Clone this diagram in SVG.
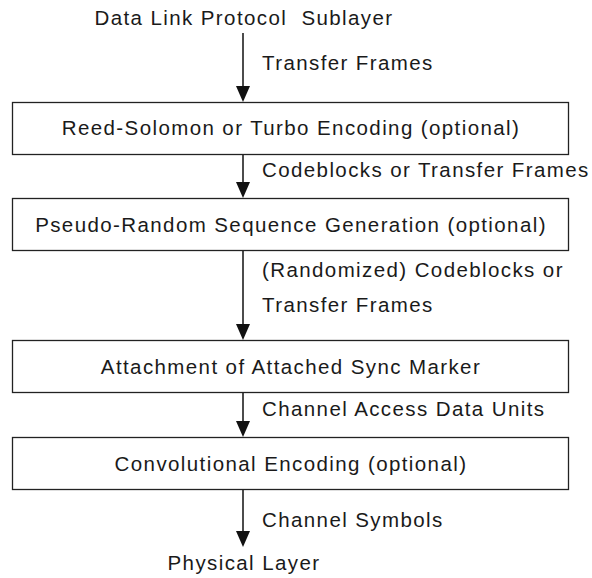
<svg xmlns="http://www.w3.org/2000/svg" width="592" height="578" viewBox="0 0 592 578">
<style>
text{font-family:"Liberation Sans",Arial,sans-serif;font-size:20.5px;letter-spacing:1.4px;fill:#1a1a1a;white-space:pre}
.c{text-anchor:middle}
.box{fill:#fff;stroke:#222;stroke-width:1.3}
.ln{stroke:#111;stroke-width:1.5;fill:none}
.ah{fill:#111}
</style>
<rect width="592" height="578" fill="#fff"/>
<g id="connectors">
<line class="ln" x1="243" y1="33" x2="243" y2="86"/>
<path class="ah" d="M236,86 L250,86 L243,102 Z"/>
<line class="ln" x1="243" y1="155" x2="243" y2="182"/>
<path class="ah" d="M236,182 L250,182 L243,198 Z"/>
<line class="ln" x1="243" y1="250" x2="243" y2="324"/>
<path class="ah" d="M236,324 L250,324 L243,340 Z"/>
<line class="ln" x1="243" y1="393" x2="243" y2="421"/>
<path class="ah" d="M236,421 L250,421 L243,437 Z"/>
<line class="ln" x1="243" y1="489" x2="243" y2="531"/>
<path class="ah" d="M236,531 L250,531 L243,547 Z"/>
<text x="262" y="70">Transfer Frames</text>
<text x="262" y="177">Codeblocks or Transfer Frames</text>
<text x="262" y="277">(Randomized) Codeblocks or</text>
<text x="262" y="312">Transfer Frames</text>
<text x="262" y="416">Channel Access Data Units</text>
<text x="262" y="527">Channel Symbols</text>
</g>
<g id="top"><text class="c" x="244" y="25">Data Link Protocol  Sublayer</text></g>
<g id="n1"><rect class="box" x="12.5" y="102.5" width="556" height="52"/><text class="c" x="291" y="135">Reed-Solomon or Turbo Encoding (optional)</text></g>
<g id="n2"><rect class="box" x="12.5" y="198.5" width="556" height="52"/><text class="c" x="291" y="232">Pseudo-Random Sequence Generation (optional)</text></g>
<g id="n3"><rect class="box" x="12.5" y="340.5" width="556" height="52"/><text class="c" x="291" y="374">Attachment of Attached Sync Marker</text></g>
<g id="n4"><rect class="box" x="12.5" y="437.5" width="556" height="52"/><text class="c" x="291" y="471">Convolutional Encoding (optional)</text></g>
<g id="bottom"><text class="c" x="244" y="570">Physical Layer</text></g>
</svg>
